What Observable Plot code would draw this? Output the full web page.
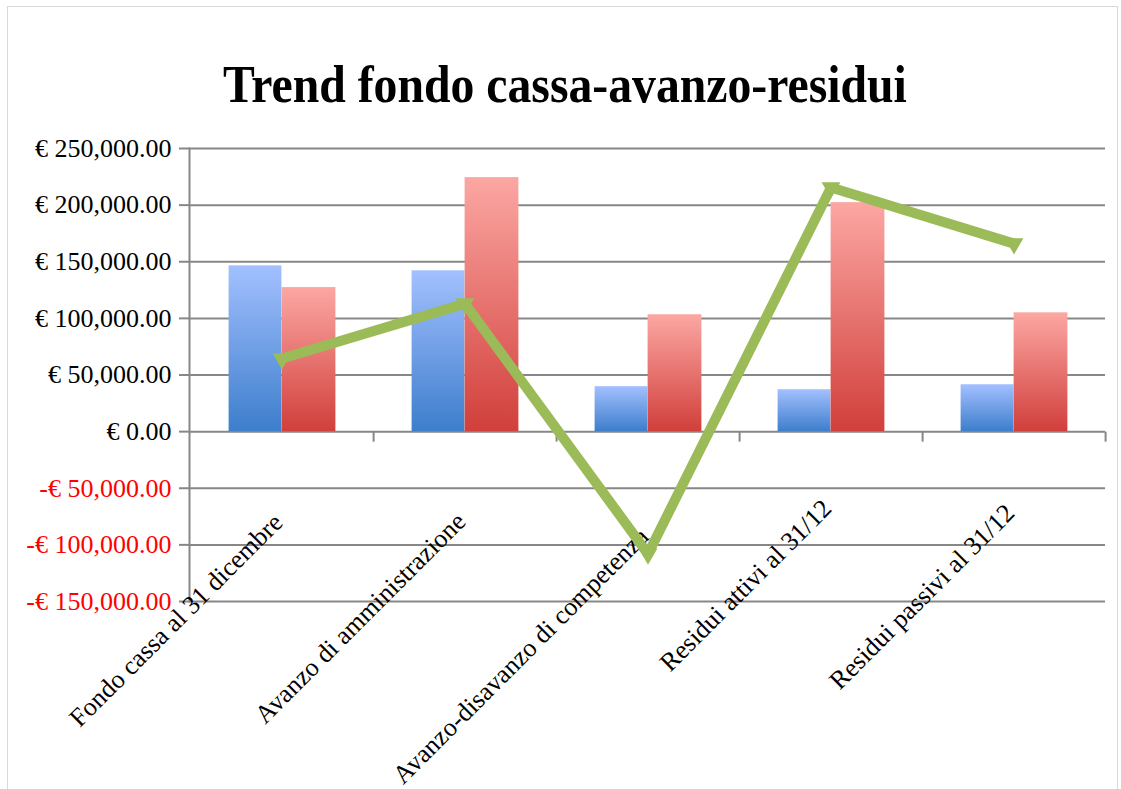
<!DOCTYPE html>
<html><head><meta charset="utf-8">
<script src="https://cdn.jsdelivr.net/npm/d3@7"></script>
<script src="https://cdn.jsdelivr.net/npm/@observablehq/plot@0.6"></script>
<style>
body{margin:0;background:#fff;}
#wrap{position:relative;width:1121px;height:789px;overflow:hidden;background:#fff;}
#border{position:absolute;left:7px;top:6px;width:1111px;height:820px;border:1px solid #d9d9d9;box-sizing:border-box;}
#title{position:absolute;left:0;top:58px;width:1130px;text-align:center;font:bold 53px/53px "Liberation Serif",serif;color:#000;white-space:nowrap;}
#title span{display:inline-block;transform:scaleX(0.9);transform-origin:50% 50%;}
#chart{position:absolute;left:0;top:120px;}
</style></head>
<body><div id="wrap"><div id="border"></div><div id="title"><span>Trend fondo cassa-avanzo-residui</span></div><div id="chart"></div></div>
<script>
const categories = ["Fondo cassa al 31 dicembre","Avanzo di amministrazione","Avanzo-disavanzo di competenza","Residui attivi al 31/12","Residui passivi al 31/12"];
const seriesBlue = [146400,142000,39700,37000,41400];
const seriesRed = [127200,224300,103200,202200,104900];
const seriesLine = [64500,113000,-108000,215500,166000];
const yTicks = [-150000,-100000,-50000,0,50000,100000,150000,200000,250000];

const W = 1121, H = 669, ML = 189, MR = 16, MT = 28, MB = 188;
const bw = (W - ML - MR) / categories.length;
const barW = 53;
const gridColor = "#878787";
const green = "#9BBB59";

const blueRows = categories.map((c, i) => ({category: c, value: seriesBlue[i]}));
const redRows = categories.map((c, i) => ({category: c, value: seriesRed[i]}));
const lineRows = categories.map((c, i) => ({category: c, value: seriesLine[i]}));

const fmt = d => (d < 0 ? "-" : "") + "€ " + d3.format(",.2f")(Math.abs(d));
const tickSymbol = {draw(ctx) { ctx.moveTo(0, 0); ctx.lineTo(0, 10); }};

const svg = Plot.plot({
  width: W, height: H,
  marginLeft: ML, marginRight: MR, marginTop: MT, marginBottom: MB,
  style: {fontFamily: "'Liberation Serif', serif", fontSize: "26px", background: "transparent", color: "#000"},
  x: {type: "band", domain: categories, paddingInner: 0, paddingOuter: 0, axis: null},
  y: {domain: [-150000, 250000], axis: null},
  marks: [
    Plot.gridY({ticks: yTicks, stroke: gridColor, strokeOpacity: 1, strokeWidth: 2}),
    Plot.frame({anchor: "left", stroke: gridColor, strokeWidth: 2}),
    Plot.axisY({ticks: yTicks.filter(d => d >= 0), tickFormat: fmt, tickSize: 10, tickPadding: 8, stroke: gridColor, strokeWidth: 2, fill: "#000", fontSize: 26, label: null}),
    Plot.axisY({ticks: yTicks.filter(d => d < 0), tickFormat: fmt, tickSize: 10, tickPadding: 8, stroke: gridColor, strokeWidth: 2, fill: "#ff0000", fontSize: 26, label: null}),
    Plot.dot(categories, {x: d => d, y: 0, dx: bw / 2, symbol: tickSymbol, r: 5, stroke: gridColor, strokeWidth: 2, fill: "none"}),
    Plot.barY(blueRows, {x: "category", y: "value", fill: "url(#gradBlue)", insetLeft: bw / 2 - barW, insetRight: bw / 2}),
    Plot.barY(redRows, {x: "category", y: "value", fill: "url(#gradRed)", insetLeft: bw / 2, insetRight: bw / 2 - barW - 1}),
    Plot.text(categories, {x: d => d, y: 0, text: d => d, rotate: -45, textAnchor: "end", lineAnchor: "top", fill: "#000", fontSize: 26}),
    Plot.line(lineRows, {x: "category", y: "value", stroke: green, strokeWidth: 10, strokeLinejoin: "miter", strokeLinecap: "butt"}),
    Plot.dot(lineRows, {x: "category", y: "value", symbol: "triangle", r: 7, fill: green, rotate: 180})
  ]
});

// gradient definitions
const NS = "http://www.w3.org/2000/svg";
const defs = document.createElementNS(NS, "defs");
function grad(id, top, bottom) {
  const g = document.createElementNS(NS, "linearGradient");
  g.setAttribute("id", id);
  g.setAttribute("x1", "0"); g.setAttribute("y1", "0"); g.setAttribute("x2", "0"); g.setAttribute("y2", "1");
  [[0, top], [1, bottom]].forEach(([o, c]) => {
    const s = document.createElementNS(NS, "stop");
    s.setAttribute("offset", o); s.setAttribute("stop-color", c);
    g.appendChild(s);
  });
  defs.appendChild(g);
}
grad("gradBlue", "#A3C0FF", "#3D7ECC");
grad("gradRed", "#FCA7A3", "#D13F3B");
svg.insertBefore(defs, svg.firstChild);

document.getElementById("chart").appendChild(svg);

// place category labels like the original (longer labels sit a bit lower)
svg.querySelectorAll('g[aria-label="text"] text').forEach(t => {
  const L = t.getComputedTextLength();
  const tr = t.getAttribute("transform") || "";
  const m = tr.match(/translate\(\s*([-\d.e]+)[ ,]+([-\d.e]+)\s*\)/);
  if (m) {
    const x = +m[1] - 11, y = +m[2] + 10 + 0.24 * L;
    t.setAttribute("transform", `translate(${x},${y}) rotate(-45)`);
  }
});
</script>
</body></html>
